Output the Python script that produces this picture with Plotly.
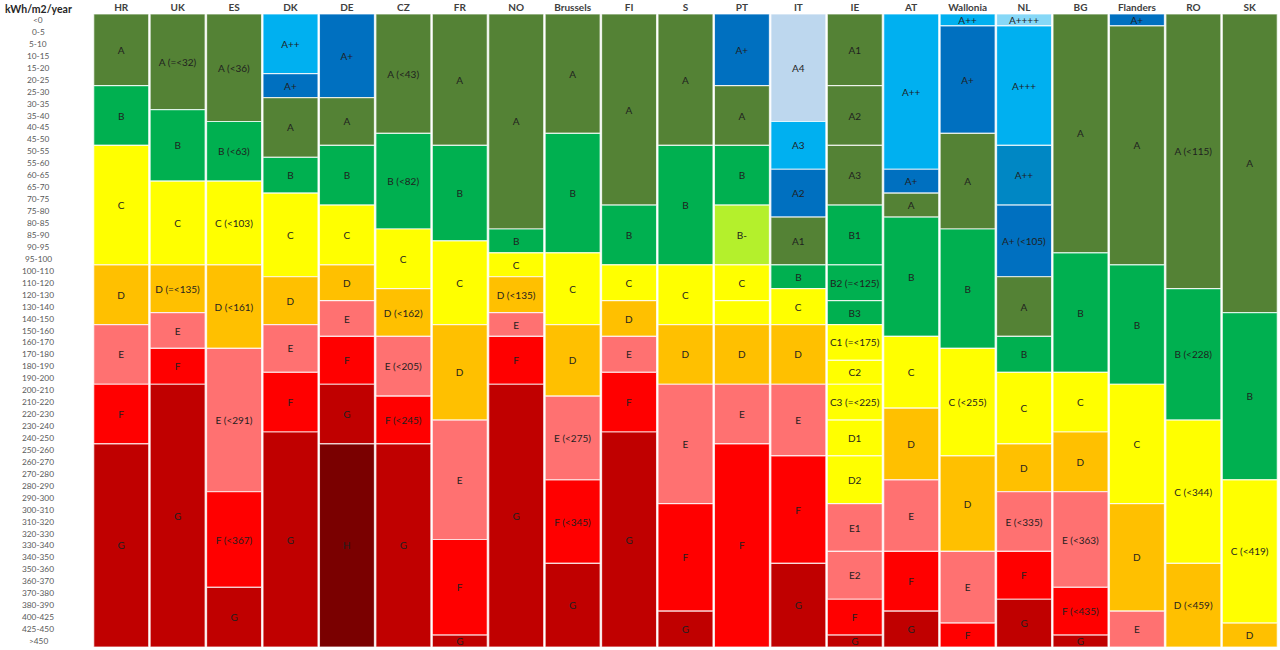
import plotly.graph_objects as go

# ---------------- data ----------------
bins = ["<0", "0-5", "5-10", "10-15", "15-20", "20-25", "25-30", "30-35", "35-40", "40-45",
        "45-50", "50-55", "55-60", "60-65", "65-70", "70-75", "75-80", "80-85", "85-90", "90-95",
        "95-100", "100-110", "110-120", "120-130", "130-140", "140-150", "150-160", "160-170",
        "170-180", "180-190", "190-200", "200-210", "210-220", "220-230", "230-240", "240-250",
        "250-260", "260-270", "270-280", "280-290", "290-300", "300-310", "310-320", "320-330",
        "330-340", "340-350", "350-360", "360-370", "370-380", "380-390", "400-425", "425-450", ">450"]

countries = ["HR", "UK", "ES", "DK", "DE", "CZ", "FR", "NO", "Brussels", "FI", "S", "PT",
             "IT", "IE", "AT", "Wallonia", "NL", "BG", "Flanders", "RO", "SK"]

# class labels (top to bottom) and number of kWh/m2/year bins each class spans
hr_labels = ["A", "B", "C", "D", "E", "F", "G"]
hr_bins = [6, 5, 10, 5, 5, 5, 17]
uk_labels = ["A (=<32)", "B", "C", "D (=<135)", "E", "F", "G"]
uk_bins = [8, 6, 7, 4, 3, 3, 22]
es_labels = ["A (<36)", "B (<63)", "C (<103)", "D (<161)", "E (<291)", "F (<367)", "G"]
es_bins = [9, 5, 7, 7, 12, 8, 5]
dk_labels = ["A++", "A+", "A", "B", "C", "D", "E", "F", "G"]
dk_bins = [5, 2, 5, 3, 7, 4, 4, 5, 18]
de_labels = ["A+", "A", "B", "C", "D", "E", "F", "G", "H"]
de_bins = [7, 4, 5, 5, 3, 3, 4, 5, 17]
cz_labels = ["A (<43)", "B (<82)", "C", "D (<162)", "E (<205)", "F (<245)", "G"]
cz_bins = [10, 8, 5, 4, 5, 4, 17]
fr_labels = ["A", "B", "C", "D", "E", "F", "G"]
fr_bins = [11, 8, 7, 8, 10, 8, 1]
no_labels = ["A", "B", "C", "D (<135)", "E", "F", "G"]
no_bins = [18, 2, 2, 3, 2, 4, 22]
bru_labels = ["A", "B", "C", "D", "E (<275)", "F (<345)", "G"]
bru_bins = [10, 10, 6, 6, 7, 7, 7]
fi_labels = ["A", "B", "C", "D", "E", "F", "G"]
fi_bins = [16, 5, 3, 3, 3, 5, 18]
s_labels = ["A", "B", "C", "D", "E", "F", "G"]
s_bins = [11, 10, 5, 5, 10, 9, 3]
pt_labels = ["A+", "A", "B", "B-", "C", "", "D", "E", "F"]
pt_bins = [6, 5, 5, 5, 3, 2, 5, 5, 17]
it_labels = ["A4", "A3", "A2", "A1", "B", "C", "D", "E", "F", "G"]
it_bins = [9, 4, 4, 4, 2, 3, 5, 6, 9, 7]
ie_labels = ["A1", "A2", "A3", "B1", "B2 (=<125)", "B3", "C1 (=<175)", "C2", "C3 (=<225)",
             "D1", "D2", "E1", "E2", "F", "G"]
ie_bins = [6, 5, 5, 5, 3, 2, 3, 2, 3, 3, 4, 4, 4, 3, 1]
at_labels = ["A++", "A+", "A", "B", "C", "D", "E", "F", "G"]
at_bins = [13, 2, 2, 10, 6, 6, 6, 5, 3]
wal_labels = ["A++", "A+", "A", "B", "C (<255)", "D", "E", "F"]
wal_bins = [1, 9, 8, 10, 9, 8, 6, 2]
nl_labels = ["A++++", "A+++", "A++", "A+ (<105)", "A", "B", "C", "D", "E (<335)", "F", "G"]
nl_bins = [1, 10, 5, 6, 5, 3, 6, 4, 5, 4, 4]
bg_labels = ["A", "B", "C", "D", "E (<363)", "F (<435)", "G"]
bg_bins = [20, 10, 5, 5, 8, 4, 1]
fla_labels = ["A+", "A", "B", "C", "D", "E"]
fla_bins = [1, 20, 10, 10, 9, 3]
ro_labels = ["A (<115)", "B (<228)", "C (<344)", "D (<459)"]
ro_bins = [23, 11, 12, 7]
sk_labels = ["A", "B", "C (<419)", "D"]
sk_bins = [25, 14, 12, 2]

# ---------------- styles ----------------
class_colors = {
    "A++++": "#86D8F7", "A+++": "#00B0F0", "A++": "#00B0F0", "A+": "#0070C0",
    "A": "#548235", "B": "#00B050", "B-": "#B4F02C", "C": "#FFFF00", "D": "#FFC000",
    "E": "#FF7171", "F": "#FF0000", "G": "#C00000", "H": "#7A0000",
}
color_overrides = {
    ("IT", "A4"): "#BDD7EE", ("IT", "A3"): "#00B0F0", ("IT", "A2"): "#0070C0",
    ("IE", "D1"): "#FFFF00", ("IE", "D2"): "#FFFF00",
    ("NL", "A++"): "#0087C4", ("PT", ""): "#FFFF00",
}

def seg_color(country, label):
    if (country, label) in color_overrides:
        return color_overrides[(country, label)]
    key = label.split(" ")[0].rstrip("0123456789")
    return class_colors.get(key, "#FFFF00")

columns = [
    (hr_labels, hr_bins), (uk_labels, uk_bins), (es_labels, es_bins), (dk_labels, dk_bins),
    (de_labels, de_bins), (cz_labels, cz_bins), (fr_labels, fr_bins), (no_labels, no_bins),
    (bru_labels, bru_bins), (fi_labels, fi_bins), (s_labels, s_bins), (pt_labels, pt_bins),
    (it_labels, it_bins), (ie_labels, ie_bins), (at_labels, at_bins), (wal_labels, wal_bins),
    (nl_labels, nl_bins), (bg_labels, bg_bins), (fla_labels, fla_bins), (ro_labels, ro_bins),
    (sk_labels, sk_bins),
]

FONT = "Lato, Noto Sans, sans-serif"
fig = go.Figure()
for country, (labels, sizes) in zip(countries, columns):
    start = 0
    for lab, n in zip(labels, sizes):
        fig.add_trace(go.Bar(
            x=[country], y=[n], base=[start],
            marker=dict(color=seg_color(country, lab),
                        line=dict(color="rgba(255,255,255,0.75)", width=1.2)),
            text=[lab], textposition="inside", insidetextanchor="middle", textangle=0,
            textfont=dict(size=10, color="#1f1f1f", family=FONT),
            showlegend=False, hoverinfo="text", hovertext=[f"{country}: {lab}"],
        ))
        start += n

n_rows = len(bins)
plot_left, plot_width = 93, 1185
annotations = []
for i, b in enumerate(bins):
    annotations.append(dict(
        text=b, xref="paper", yref="y", x=(38 - plot_left) / plot_width, y=i + 0.5,
        xanchor="center", yanchor="middle", showarrow=False,
        font=dict(size=8.3, color="#595959", family=FONT)))
annotations.append(dict(
    text="<b>kWh/m2/year</b>", xref="paper", yref="paper",
    x=(38 - plot_left) / plot_width, y=1 + 5 / 633, xanchor="center", yanchor="middle",
    showarrow=False, font=dict(size=10.5, color="#262626", family=FONT)))

fig.update_layout(
    width=1280, height=650,
    margin=dict(l=plot_left, r=2, t=14, b=3),
    paper_bgcolor="white", plot_bgcolor="white",
    barmode="overlay", bargap=0.025,
    uniformtext=dict(minsize=10, mode="show"),
    annotations=annotations,
    xaxis=dict(type="category", categoryorder="array", categoryarray=countries,
               side="top", showgrid=False, zeroline=False, showline=False, ticks="",
               tickfont=dict(size=10, color="#404040", family=FONT, weight="bold"),
               fixedrange=True),
    yaxis=dict(range=[n_rows, 0], showticklabels=False, showgrid=False, zeroline=False,
               showline=False, ticks="", fixedrange=True),
    font=dict(family=FONT),
)

fig.write_html("out.html",
               config={"displayModeBar": False},
               post_script="document.body.style.margin='0';document.body.style.overflow='hidden';")
